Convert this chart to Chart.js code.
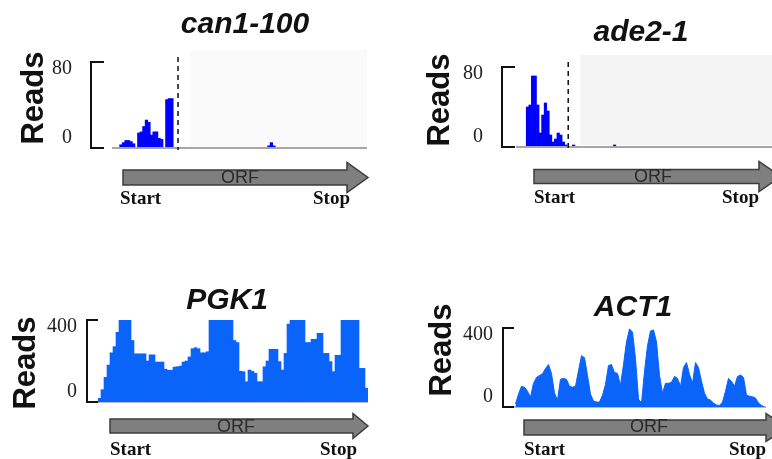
<!DOCTYPE html>
<html>
<head>
<meta charset="utf-8">
<script src="https://cdn.jsdelivr.net/npm/chart.js@4.4.1/dist/chart.umd.min.js"></script>
<style>
  body { margin: 0; background: #fff; }
  #wrap { position: relative; width: 772px; height: 459px; overflow: hidden; background: #fff; }
  canvas { position: absolute; }
</style>
</head>
<body>
<div id="wrap">
  <canvas id="c1" width="386" height="230" style="left:0;top:0"></canvas>
  <canvas id="c2" width="386" height="230" style="left:386px;top:0"></canvas>
  <canvas id="c3" width="386" height="229" style="left:0;top:230px"></canvas>
  <canvas id="c4" width="386" height="229" style="left:386px;top:230px"></canvas>
</div>
<script>
// reads per bin along the ORF
const canReads = [0,0,0,3,5,7,7,6,4,0, 14,15,20,26,24,12,15,15,9,8, 0,45,46,46,0,0,0,0,0,0,
  0,0,0,0,0,0,0,0,0,0, 0,0,0,0,0,0,0,0,0,0, 0,0,0,0,0,0,0,0,0,0,
  0,2,5,2,0,0,0,0,0,0, 0,0,0,0,0,0,0,0,0,0, 0,0,0,0,0,0,0,0,0,0, 0,0,0,0,0,0,0,0,0,0];
const adeReads = [0,0,0,0,40,42,71,71,42,14, 32,44,36,12,5,8,14,12,5,2, 0,0,2,0,0,0,0,0,0,0,
  0,0,0,0,0,0,0,0,2,0, 0,0,0,0,0,0,0,0,0,0, 0,0,0,0,0,0,0,0,0,0,
  0,0,0,0,0,0,0,0,0,0, 0,0,0,0,0,0,0,0,0,0, 0,0,0,0,0,0,0,0,0,0, 0,0,0,0,0,0,0,0,0,0];
const pgkReads = [18,60,120,180,240,270,340,400,400,400, 400,300,235,235,235,235,200,230,230,195,
  195,195,160,155,155,170,172,175,195,200, 220,260,265,260,240,240,245,400,400,400,
  400,400,400,400,400,300,290,150,148,99, 156,150,140,99,99,172,200,257,257,257,
  197,156,237,380,400,400,400,400,400,290, 290,306,306,335,335,237,237,197,148,228,
  228,400,400,400,400,400,400,164,164,67];
const actReads = [15,65,105,100,80,50,120,150,160,168, 195,215,170,70,35,140,145,140,105,100,
  105,185,260,250,160,65,30,25,25,60, 115,210,215,175,170,110,215,330,395,380,
  245,40,20,180,310,385,390,330,160,70, 120,120,125,155,145,105,200,225,165,120,
  225,200,130,70,40,35,20,10,8,25, 80,145,130,105,155,162,150,60,55,52,
  45,20,8,0];

// stop codon position (in bins from the ORF start) for the two nonsense alleles
const canStop = 25.9;
const adeStop = 20.4;

const genes = ['can1-100', 'ade2-1', 'PGK1', 'ACT1'];
const smallTicks = [0, 80];
const bigTicks = [0, 400];
const orfLabel = 'ORF';
const startLabel = 'Start';
const stopLabel = 'Stop';
const yLabel = 'Reads';

const SANS = '"Liberation Sans", Arial, sans-serif';
const SERIF = '"Liberation Serif", "Times New Roman", serif';

function drawArrow(ctx, a) {
  ctx.save();
  ctx.beginPath();
  ctx.moveTo(a.x0, a.y - a.body / 2);
  ctx.lineTo(a.x1, a.y - a.body / 2);
  ctx.lineTo(a.x1, a.y - a.head / 2);
  ctx.lineTo(a.tip, a.y);
  ctx.lineTo(a.x1, a.y + a.head / 2);
  ctx.lineTo(a.x1, a.y + a.body / 2);
  ctx.lineTo(a.x0, a.y + a.body / 2);
  ctx.closePath();
  ctx.fillStyle = '#7f7f7f';
  ctx.fill();
  ctx.lineWidth = 1.5;
  ctx.strokeStyle = '#3c3c3c';
  ctx.stroke();
  ctx.restore();
}

function drawBaseline(chart, width) {
  const { ctx, chartArea: area } = chart;
  ctx.save();
  ctx.strokeStyle = '#a6a6a6';
  ctx.lineWidth = width;
  ctx.beginPath();
  ctx.moveTo(area.left, area.bottom);
  ctx.lineTo(area.right, area.bottom);
  ctx.stroke();
  ctx.restore();
}

const panelPlugin = {
  id: 'panel',
  beforeDatasetsDraw(chart, args, o) {
    const { ctx, chartArea: area } = chart;
    if (o.tint) {
      // faint grey box right of the stop codon
      const cx = chart.scales.x.getPixelForValue(o.cut - 0.5);
      ctx.save();
      ctx.fillStyle = o.tint;
      ctx.fillRect(cx + 12, area.top - 12, area.right - cx - 12, area.bottom - area.top + 10);
      ctx.restore();
    }
    if (!o.baselineOnTop) drawBaseline(chart, 1.5);
  },
  afterDatasetsDraw(chart, args, o) {
    if (o.baselineOnTop) drawBaseline(chart, 2);
  },
  afterDraw(chart, args, o) {
    const { ctx, chartArea: area } = chart;
    const x = chart.scales.x, y = chart.scales.y;
    ctx.save();

    // gene name
    ctx.fillStyle = '#111';
    ctx.font = 'italic bold 30px ' + SANS;
    ctx.textAlign = 'center';
    ctx.textBaseline = 'middle';
    ctx.fillText(o.title, o.titleX, o.titleY);

    // y title
    ctx.save();
    ctx.translate(o.readsX, o.readsY);
    ctx.rotate(-Math.PI / 2);
    ctx.font = 'bold 31px ' + SANS;
    ctx.textBaseline = 'alphabetic';
    ctx.fillText(yLabel, 0, 0);
    ctx.restore();

    // bracket axis
    const yt = y.getPixelForValue(o.ticks[1]);
    const yb = y.getPixelForValue(o.ticks[0]);
    ctx.strokeStyle = '#111';
    ctx.lineWidth = 2;
    ctx.beginPath();
    ctx.moveTo(o.bracketX + o.bracketLen, yt);
    ctx.lineTo(o.bracketX, yt);
    ctx.lineTo(o.bracketX, yb);
    ctx.lineTo(o.bracketX + o.bracketLen, yb);
    ctx.stroke();

    // tick labels, pulled in toward the middle of the bracket
    ctx.font = '20px ' + SERIF;
    ctx.textAlign = 'right';
    ctx.fillStyle = '#222';
    ctx.fillText(String(o.ticks[1]), o.tickX, yt + 7);
    ctx.fillText(String(o.ticks[0]), o.tickX, yb - 10);

    // stop codon marker
    if (o.cut != null) {
      const cx = x.getPixelForValue(o.cut - 0.5);
      ctx.setLineDash([5, 4]);
      ctx.lineWidth = 1.5;
      ctx.beginPath();
      ctx.moveTo(cx, area.top - 5);
      ctx.lineTo(cx, area.bottom + 2);
      ctx.stroke();
      ctx.setLineDash([]);
    }

    // ORF arrow
    drawArrow(ctx, o.arrow);
    ctx.fillStyle = '#2a2a2a';
    ctx.font = '18px ' + SANS;
    ctx.textAlign = 'center';
    ctx.textBaseline = 'middle';
    ctx.fillText(orfLabel, o.orfX, o.orfY);

    ctx.fillStyle = '#111';
    ctx.font = 'bold 19px ' + SERIF;
    ctx.textBaseline = 'alphabetic';
    ctx.textAlign = 'left';
    ctx.fillText(startLabel, o.startX, o.textY);
    ctx.textAlign = 'right';
    ctx.fillText(stopLabel, o.stopX, o.textY);

    ctx.restore();
  }
};

function makePanel(id, values, color, pad, ticks, opts, smooth) {
  const dataset = smooth
    ? { type: 'line', data: values, fill: 'origin', backgroundColor: color, borderColor: color,
        borderWidth: 1, pointRadius: 0, tension: 0 }
    : { data: values, backgroundColor: color, borderWidth: 0,
        categoryPercentage: 1, barPercentage: 1 };
  new Chart(document.getElementById(id), {
    type: 'bar',
    data: {
      labels: values.map((v, i) => i),
      datasets: [dataset]
    },
    options: {
      responsive: false,
      animation: false,
      devicePixelRatio: 1,
      layout: { padding: pad },
      scales: {
        x: { display: false, offset: true },
        y: { display: false, min: ticks[0], max: ticks[1] }
      },
      plugins: {
        legend: { display: false },
        tooltip: { enabled: false },
        panel: Object.assign({ ticks: ticks }, opts)
      }
    },
    plugins: [panelPlugin]
  });
}

makePanel('c1', canReads, '#0000ff', { left: 112, right: 19, top: 62, bottom: 82 }, smallTicks, {
  title: genes[0], titleX: 245, titleY: 25, readsX: 43, readsY: 98, tickX: 72,
  bracketX: 91, bracketLen: 13, cut: canStop, tint: '#fafafa', baselineOnTop: true,
  arrow: { x0: 123, x1: 347, tip: 368, y: 177.5, body: 15, head: 30 },
  orfX: 240, orfY: 178, startX: 120, stopX: 350, textY: 204
});

makePanel('c2', adeReads, '#0000ff', { left: 130, right: 0, top: 67, bottom: 83 }, smallTicks, {
  title: genes[1], titleX: 255, titleY: 33, readsX: 63, readsY: 100, tickX: 97,
  bracketX: 116, bracketLen: 13, cut: adeStop, tint: '#f4f4f4', baselineOnTop: true,
  arrow: { x0: 148, x1: 373, tip: 395, y: 176.5, body: 14, head: 30 },
  orfX: 267, orfY: 177, startX: 148, stopX: 373, textY: 203
});

makePanel('c3', pgkReads, '#0a64fa', { left: 98, right: 18, top: 90, bottom: 57 }, bigTicks, {
  title: genes[2], titleX: 227, titleY: 71, readsX: 35, readsY: 133, tickX: 77,
  bracketX: 87, bracketLen: 11, cut: null,
  arrow: { x0: 110, x1: 353, tip: 368, y: 196, body: 14, head: 25 },
  orfX: 236, orfY: 197, startX: 110, stopX: 357, textY: 225
});

makePanel('c4', actReads, '#0a64fa', { left: 128, right: 6, top: 98, bottom: 52 }, bigTicks, {
  title: genes[3], titleX: 247, titleY: 78, readsX: 65, readsY: 120, tickX: 107,
  bracketX: 117, bracketLen: 11, cut: null,
  arrow: { x0: 138, x1: 380, tip: 402, y: 197.5, body: 15, head: 28 },
  orfX: 263, orfY: 197, startX: 138, stopX: 380, textY: 225
}, true);
</script>
</body>
</html>
